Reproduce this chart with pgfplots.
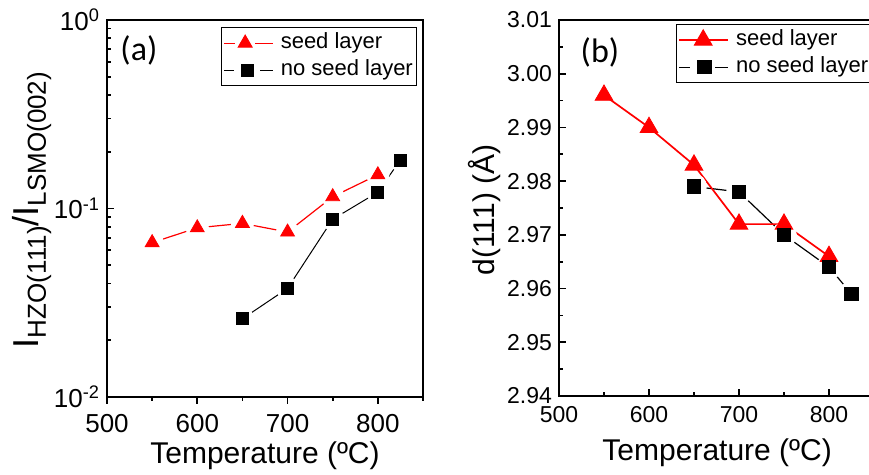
\documentclass[border=0pt]{standalone}
\usepackage{fontspec}
\setmainfont{Liberation Sans}
\newfontfamily\carl{Carlito}
\usepackage{pgfplots}
\usepackage{pgfplotstable}
\pgfplotsset{compat=1.18}

% (a) intensity ratio, log scale
\pgfplotstableread{
T r
550 0.0659
600 0.0790
650 0.0834
700 0.0750
750 0.1155
800 0.1510
}\seedA
\pgfplotstableread{
T r
650 0.0260
700 0.0377
750 0.0877
800 0.1220
825 0.1810
}\noseedA
% (b) d(111) spacing
\pgfplotstableread{
T d
550 2.996
600 2.990
650 2.983
700 2.972
750 2.972
800 2.966
}\seedB
\pgfplotstableread{
T d
650 2.979
700 2.978
750 2.970
800 2.964
825 2.959
}\noseedB

\pgfplotsset{
  panel/.style={
    scale only axis, anchor=south west,
    axis line style={line width=0.85pt},
    every tick/.style={black, line width=0.85pt},
    every minor tick/.style={black, line width=0.85pt},
    major tick length=3.3pt, minor tick length=2pt,
    xtick pos=bottom, ytick pos=left,
    /pgf/number format/assume math mode=true,
    xmin=500, xmax=850, xtick={500,600,700,800},
    xlabel={Temperature (ºC)},
    label style={font=\fontsize{15}{18}\selectfont},
    legend cell align=left,
    legend style={draw=black, line width=0.5pt, font=\fontsize{11}{13}\selectfont,
      inner xsep=1pt, inner ysep=1.5pt, row sep=1pt,
      nodes={inner sep=1pt, text height=8pt, text depth=2.5pt},
      /tikz/every odd column/.append style={column sep=2.5pt}},
  },
}

\begin{document}
\begin{tikzpicture}
\begin{axis}[panel,
  at={(53.5pt,39pt)}, width=158pt, height=188.5pt,
  ymode=log, ymin=0.01, ymax=1,
  ytick={0.01,0.1,1},
  yticklabels={10\textsuperscript{-2},10\textsuperscript{-1},10\textsuperscript{0}},
  minor ytick={0.02,0.03,0.04,0.05,0.06,0.07,0.08,0.09,0.2,0.3,0.4,0.5,0.6,0.7,0.8,0.9},
  minor xtick={550,650,750,850},
  xtick align=outside, ytick align=inside,
  tick label style={font=\fontsize{13}{15}\selectfont},
  xticklabel style={yshift=-2pt},
  xlabel style={at={(axis description cs:0.5,-0.156)}, anchor=center},
  ylabel style={at={(axis description cs:-0.237,0.496)}, anchor=center},
  ylabel={{\fontsize{18}{20}\selectfont I}\raisebox{-3.5pt}{\fontsize{13}{15}\selectfont HZO(111)}{\fontsize{18}{20}\selectfont /I}\raisebox{-3.5pt}{\fontsize{13}{15}\selectfont LSMO(002)}},
  legend style={at={(0.361,0.981)}, anchor=north west},
]
\addplot[red, line width=0.6pt, forget plot] table[x=T, y=r] {\seedA};
\addplot[only marks, mark=*, mark size=5.6pt, white, forget plot] table[x=T, y=r] {\seedA};
\addplot[only marks, red, mark=triangle*, mark size=4pt,
  legend image code/.code={
    \draw[line width=0.6pt] (0pt,0pt)--(5.5pt,0pt) (15.5pt,0pt)--(24.5pt,0pt);
    \draw plot coordinates {(10.5pt,0pt)};}]
  table[x=T, y=r] {\seedA};
\addlegendentry{seed layer}
\addplot[black, line width=0.5pt, forget plot] table[x=T, y=r] {\noseedA};
\addplot[only marks, mark=*, mark size=5.6pt, white, forget plot] table[x=T, y=r] {\noseedA};
\addplot[only marks, black, mark=square*, mark size=3pt,
  legend image code/.code={
    \draw[line width=0.5pt] (0pt,0pt)--(5pt,0pt) (18pt,0pt)--(24.5pt,0pt);
    \draw plot coordinates {(11.5pt,0pt)};}]
  table[x=T, y=r] {\noseedA};
\addlegendentry{no seed layer}
\node[font=\carl\fontsize{17}{20}\selectfont] at (axis description cs:0.101,0.92) {(a)};
\end{axis}

\begin{axis}[panel,
  at={(279.5pt,39.5pt)}, width=157.5pt, height=188pt,
  ymin=2.94, ymax=3.01,
  ytick={2.94,2.95,2.96,2.97,2.98,2.99,3.00,3.01},
  yticklabels={2.94,2.95,2.96,2.97,2.98,2.99,3.00,3.01},
  minor x tick num=1, minor y tick num=1,
  tick align=inside,
  tick label style={font=\fontsize{11.5}{14}\selectfont},
  xticklabel style={yshift=-1.5pt},
  xlabel style={at={(axis description cs:0.502,-0.152)}, anchor=center},
  ylabel style={at={(axis description cs:-0.235,0.495)}, anchor=center},
  ylabel={d(111) (Å)},
  legend style={at={(0.371,0.989)}, anchor=north west},
]
\addplot[black, line width=0.6pt, forget plot] table[x=T, y=d] {\noseedB};
\addplot[only marks, mark=*, mark size=6.2pt, white, forget plot] table[x=T, y=d] {\noseedB};
\addplot[red, line width=0.85pt, forget plot] table[x=T, y=d] {\seedB};
\addplot[only marks, red, mark=triangle*, mark size=5.1pt,
  legend image code/.code={
    \draw[line width=0.85pt] (0pt,0pt)--(24.5pt,0pt);
    \draw plot coordinates {(12pt,0pt)};}]
  table[x=T, y=d] {\seedB};
\addlegendentry{seed layer}
\addplot[only marks, black, mark=square*, mark size=3.4pt,
  legend image code/.code={
    \draw[line width=0.6pt] (0pt,0pt)--(5.5pt,0pt) (18pt,0pt)--(24.5pt,0pt);
    \draw plot coordinates {(12.5pt,0pt)};}]
  table[x=T, y=d] {\noseedB};
\addlegendentry{no seed layer}
\node[font=\carl\fontsize{17}{20}\selectfont] at (axis description cs:0.13,0.915) {(b)};
\end{axis}
\pgfresetboundingbox
\useasboundingbox (0,0) rectangle (434.5pt,237.5pt);
\end{tikzpicture}
\end{document}
